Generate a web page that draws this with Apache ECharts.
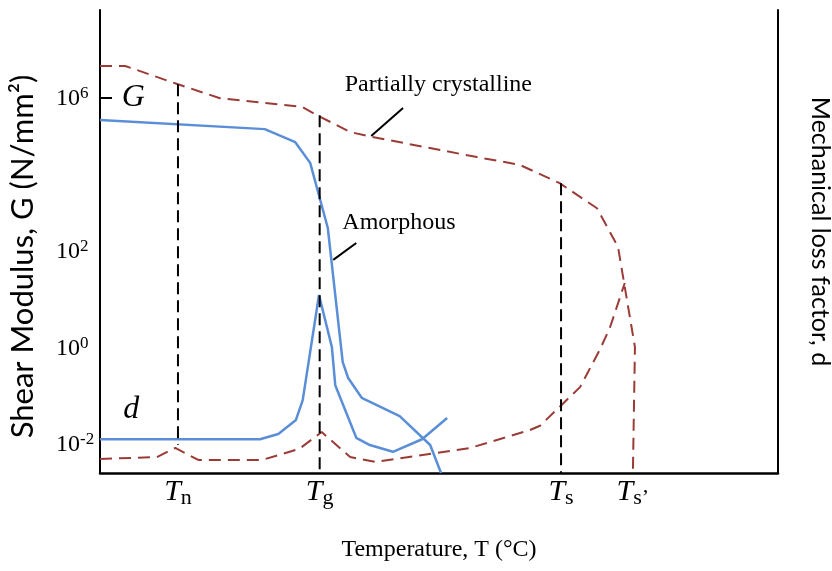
<!DOCTYPE html>
<html lang="en">
<head>
    <meta charset="UTF-8">
    <title>shear modulus vs temperature</title>
    <script type="text/javascript" src="https://cdn.jsdelivr.net/npm/echarts@6/dist/echarts.min.js"></script>
</head>
<body style="margin:0">
    <div id="main" style="width: 832px; height: 571px;"></div>
    <script type="text/javascript">
        // schematic units: x = temperature (0..100), y = log10 of G (or d)
        var tickX = [11.5, 32.4, 68.0, 78.6];
        var tickXSub = ['n', 'g', 's', 's\u2019'];
        var tickY = [-2, 0, 2, 5.18];
        var tickYExp = ['-2', '0', '2', '6'];

        var gAmorphous = [[0, 4.72], [24.3, 4.53], [28.8, 4.26], [31.0, 3.83], [33.6, 2.48], [35.8, -0.30],
            [36.6, -0.63], [38.6, -1.04], [44.2, -1.42], [48.7, -2.02], [50.3, -2.60]];
        var dAmorphous = [[0, -1.90], [23.6, -1.90], [26.3, -1.79], [28.9, -1.50], [29.9, -1.09], [32.3, 1.09],
            [34.2, 0.01], [34.7, -0.78], [37.8, -1.87], [39.8, -2.02], [43.2, -2.16], [47.5, -1.90], [51.2, -1.46]];
        var gPartial = [[0, 5.84], [3.7, 5.84], [11.5, 5.46], [17.7, 5.17], [29.8, 4.99], [32.0, 4.82], [36.9, 4.47],
            [40.1, 4.37], [55.6, 3.95], [61.9, 3.79], [67.8, 3.41], [73.3, 2.89], [76.4, 2.09], [78.9, 0.01], [78.6, -2.58]];
        var dPartial = [[0, -2.31], [8.4, -2.27], [11.1, -2.08], [14.5, -2.33], [23.9, -2.33], [29.4, -2.10],
            [32.7, -1.75], [36.9, -2.27], [40.7, -2.37], [54.6, -2.08], [63.4, -1.71], [64.9, -1.62],
            [70.8, -0.82], [73.7, -0.05], [75.2, 0.41], [77.4, 1.34]];

        // vertical guide lines: x, top, bottom
        var guides = [[11.5, 5.46, -2.02], [32.4, 4.82, -2.6], [68.0, 3.41, -2.6]];

        // leader lines for the curve names
        var leaderPartial = [[40.0, 4.39], [44.7, 4.97]];
        var leaderAmorphous = [[34.4, 1.82], [37.8, 2.17]];

        var notes = [
            { name: 'Partially crystalline', value: [49.9, 5.46] },
            { name: 'Amorphous', value: [44.1, 2.60] },
            { name: 'G', value: [4.9, 5.19], italic: true },
            { name: 'd', value: [4.6, -1.29], italic: true }
        ];

        var blue = '#5a8fd8';
        var red = '#9b3b36';
        var serif = 'Liberation Serif';

        function nearest(arr, v) {
            var best = 0;
            for (var i = 0; i < arr.length; i++) {
                if (Math.abs(arr[i] - v) < Math.abs(arr[best] - v)) best = i;
            }
            return best;
        }

        var series = [];
        series.push({ name: 'G amorphous', type: 'line', data: gAmorphous, showSymbol: false,
            lineStyle: { color: blue, width: 2.5 } });
        series.push({ name: 'd amorphous', type: 'line', data: dAmorphous, showSymbol: false,
            lineStyle: { color: blue, width: 2.5 } });
        series.push({ name: 'G partial', type: 'line', data: gPartial, showSymbol: false,
            lineStyle: { color: red, width: 2, type: [12, 7] } });
        series.push({ name: 'd partial', type: 'line', data: dPartial, showSymbol: false,
            lineStyle: { color: red, width: 2, type: [12, 7] } });
        guides.forEach(function (g) {
            series.push({ type: 'line', data: [[g[0], g[1]], [g[0], g[2]]], showSymbol: false,
                lineStyle: { color: '#000', width: 2, type: [12, 6] } });
        });
        [leaderPartial, leaderAmorphous].forEach(function (l) {
            series.push({ type: 'line', data: l, showSymbol: false, lineStyle: { color: '#000', width: 2 } });
        });
        series.push({
            type: 'scatter', symbolSize: 0,
            itemStyle: { opacity: 1 },
            data: notes.map(function (n) {
                return {
                    name: n.name, value: n.value,
                    label: { fontStyle: n.italic ? 'italic' : 'normal', fontSize: n.italic ? 32 : 24 }
                };
            }),
            label: { show: true, position: 'inside', formatter: '{b}', color: '#000', fontFamily: serif }
        });

        var myChart = echarts.init(document.getElementById('main'));
        myChart.setOption({
            animation: false,
            grid: { left: 100, right: 54, top: 10, bottom: 98, outerBoundsMode: 'none' },
            xAxis: {
                type: 'value', min: 0, max: 100,
                name: 'Temperature, T (\u00b0C)', nameLocation: 'middle', nameGap: 65,
                nameTextStyle: { fontFamily: serif, fontSize: 24, color: '#000' },
                axisLine: { onZero: false, lineStyle: { color: '#000', width: 2.5 } },
                axisTick: { show: false },
                splitLine: { show: false },
                axisLabel: {
                    customValues: tickX, margin: 4,
                    formatter: function (v) {
                        return '{t|T}{s|' + tickXSub[nearest(tickX, v)] + '}';
                    },
                    rich: {
                        t: { fontFamily: serif, fontStyle: 'italic', fontSize: 30, lineHeight: 32, verticalAlign: 'top', color: '#000' },
                        s: { fontFamily: serif, fontSize: 22, lineHeight: 22, padding: [16, 0, 0, 0], verticalAlign: 'bottom', color: '#000' }
                    }
                }
            },
            yAxis: [{
                type: 'value', min: -2.6, max: 7.0,
                name: 'Shear Modulus, G (N/mm\u00b2)', nameLocation: 'middle', nameGap: 62, nameRotate: 90,
                nameTextStyle: { fontFamily: 'Lato', fontSize: 31, color: '#000', padding: [0, 30, 0, 0] },
                axisLine: { show: true, onZero: false, lineStyle: { color: '#000', width: 2 } },
                axisTick: { show: true, inside: true, length: 12, customValues: [5.18], lineStyle: { color: '#000', width: 2 } },
                splitLine: { show: false },
                axisLabel: {
                    customValues: tickY, margin: 44, align: 'left',
                    formatter: function (v) {
                        return '{b|10}{sup|' + tickYExp[nearest(tickY, v)] + '}';
                    },
                    rich: {
                        b: { fontFamily: serif, fontSize: 24, lineHeight: 26, verticalAlign: 'bottom', color: '#000' },
                        sup: { fontFamily: serif, fontSize: 17, lineHeight: 17, verticalAlign: 'top', color: '#000' }
                    }
                }
            }, {
                type: 'value', min: -2.6, max: 7.0, position: 'right',
                name: 'Mechanical loss factor, d', nameLocation: 'middle', nameGap: 30, nameRotate: -90,
                nameTextStyle: { fontFamily: 'Lato', fontSize: 25, color: '#000', padding: [0, 20, 0, 0] },
                axisLine: { show: true, onZero: false, lineStyle: { color: '#000', width: 2 } },
                axisTick: { show: false },
                axisLabel: { show: false },
                splitLine: { show: false }
            }],
            series: series
        });
    </script>
</body>
</html>
